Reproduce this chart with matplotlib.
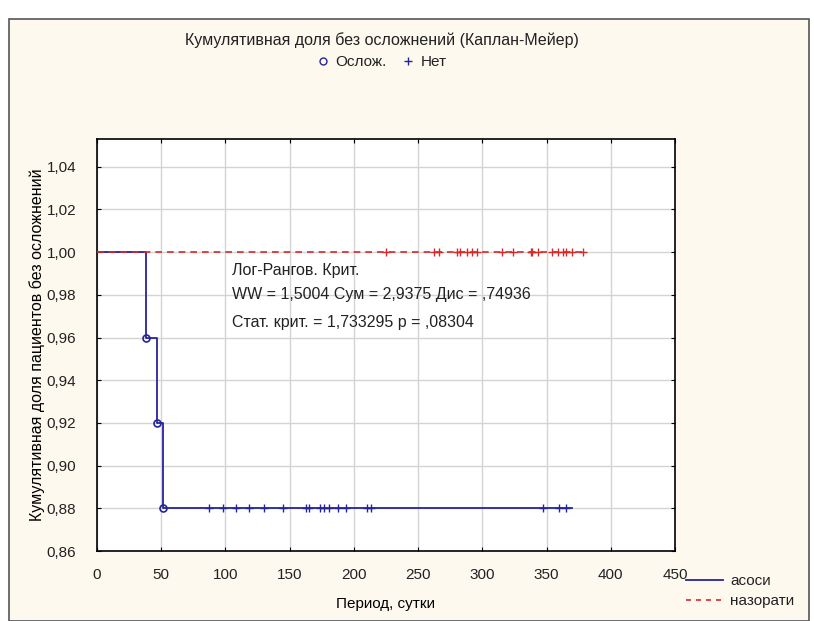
import matplotlib.pyplot as plt
from matplotlib.lines import Line2D
from matplotlib.patches import Rectangle

plt.rcParams['font.family'] = ['Liberation Sans', 'DejaVu Sans']
plt.rcParams['text.color'] = '#222222'

# Kaplan-Meier step data (group "асоси")
km_t = [0, 38, 47, 51, 370]
km_s = [1.00, 0.96, 0.92, 0.88, 0.88]
event_t = [38, 47, 51]
event_s = [0.96, 0.92, 0.88]
cens_a = [87, 98, 108, 118, 130, 145, 163, 165, 174, 177, 181, 188, 194,
          210, 213, 347, 360, 365]
# group "назорати" - no events, all censored
ctrl_end = 380
cens_b = [225, 262, 266, 280, 283, 288, 292, 296, 315, 324, 338, 339, 343,
          354, 359, 363, 365, 370, 378]

blue = '#25259a'
red = '#d42a2a'

fig = plt.figure(figsize=(8.14, 6.21), dpi=100)
fig.patch.set_facecolor('white')
fig.patches.append(Rectangle((9/814, 0), 800/814, 1 - 19/621, transform=fig.transFigure,
                             facecolor='#fdf9ef', edgecolor='#555555', lw=1.2, zorder=-10))

ax = fig.add_axes([97/814, 1 - 551/621, 578/814, 412/621])
ax.set_facecolor('white')

ax.step(km_t, km_s, where='post', color=blue, lw=1.3, zorder=3)
ax.plot(event_t, event_s, 'o', ms=5, mfc='none', mec=blue, mew=1.2, zorder=4)
ax.plot(cens_a, [0.88] * len(cens_a), '+', ms=6, color=blue, mew=1, zorder=4)

ax.plot([0, ctrl_end], [1.0, 1.0], '--', color=red, lw=1.2, dashes=(4, 3), zorder=3)
ax.plot(cens_b, [1.0] * len(cens_b), '+', ms=6, color=red, mew=1, zorder=4)

ax.set_xlim(0, 450)
ax.set_ylim(0.86, 1.053)
ax.set_xticks(range(0, 451, 50))
ax.set_yticks([0.86 + 0.02 * i for i in range(10)])
ax.set_yticklabels([('%.2f' % (0.86 + 0.02 * i)).replace('.', ',') for i in range(10)])
ax.grid(True, color='#d4d4d4', lw=1)
ax.set_axisbelow(True)
ax.tick_params(direction='in', length=3, top=True, right=True, labelsize=11,
               labelcolor='#222222')
ax.tick_params(axis='y', pad=15)
ax.tick_params(axis='x', pad=12)
for s in ax.spines.values():
    s.set_linewidth(1.2)

ax.set_xlabel('Период, сутки', fontsize=11, labelpad=11)
ax.set_ylabel('Кумулятивная доля пациентов без осложнений', fontsize=11.5, labelpad=1)

ax.text(0.233, 0.671, 'Лог-Рангов. Крит.', transform=ax.transAxes, fontsize=11.5)
ax.text(0.233, 0.611, 'WW = 1,5004 Сум = 2,9375 Дис = ,74936', transform=ax.transAxes, fontsize=11.5)
ax.text(0.233, 0.543, 'Стат. крит. = 1,733295 p = ,08304', transform=ax.transAxes, fontsize=11.5)

fig.text(382/814, 1 - 40/621, 'Кумулятивная доля без осложнений (Каплан-Мейер)',
         ha='center', va='center', fontsize=11.5)

top_handles = [Line2D([], [], ls='none', marker='o', mfc='none', mec=blue, ms=5),
               Line2D([], [], ls='none', marker='+', color=blue, ms=6)]
fig.legend(top_handles, ['Ослож.', 'Нет'], loc='center', ncol=2, frameon=False,
           bbox_to_anchor=(382/814, 1 - 62/621), fontsize=11, handlelength=0.8,
           handletextpad=0.4, columnspacing=1.0)

bot_handles = [Line2D([], [], color=blue, lw=1.3),
               Line2D([], [], color=red, lw=1.2, ls='--', dashes=(3, 3))]
fig.legend(bot_handles, ['асоси', 'назорати'], loc='upper left', frameon=False,
           bbox_to_anchor=(680/814, 1 - 568/621), fontsize=11, handlelength=2.4,
           handletextpad=0.5, labelspacing=0.4, borderaxespad=0)

fig.savefig('out.png', dpi=100)
